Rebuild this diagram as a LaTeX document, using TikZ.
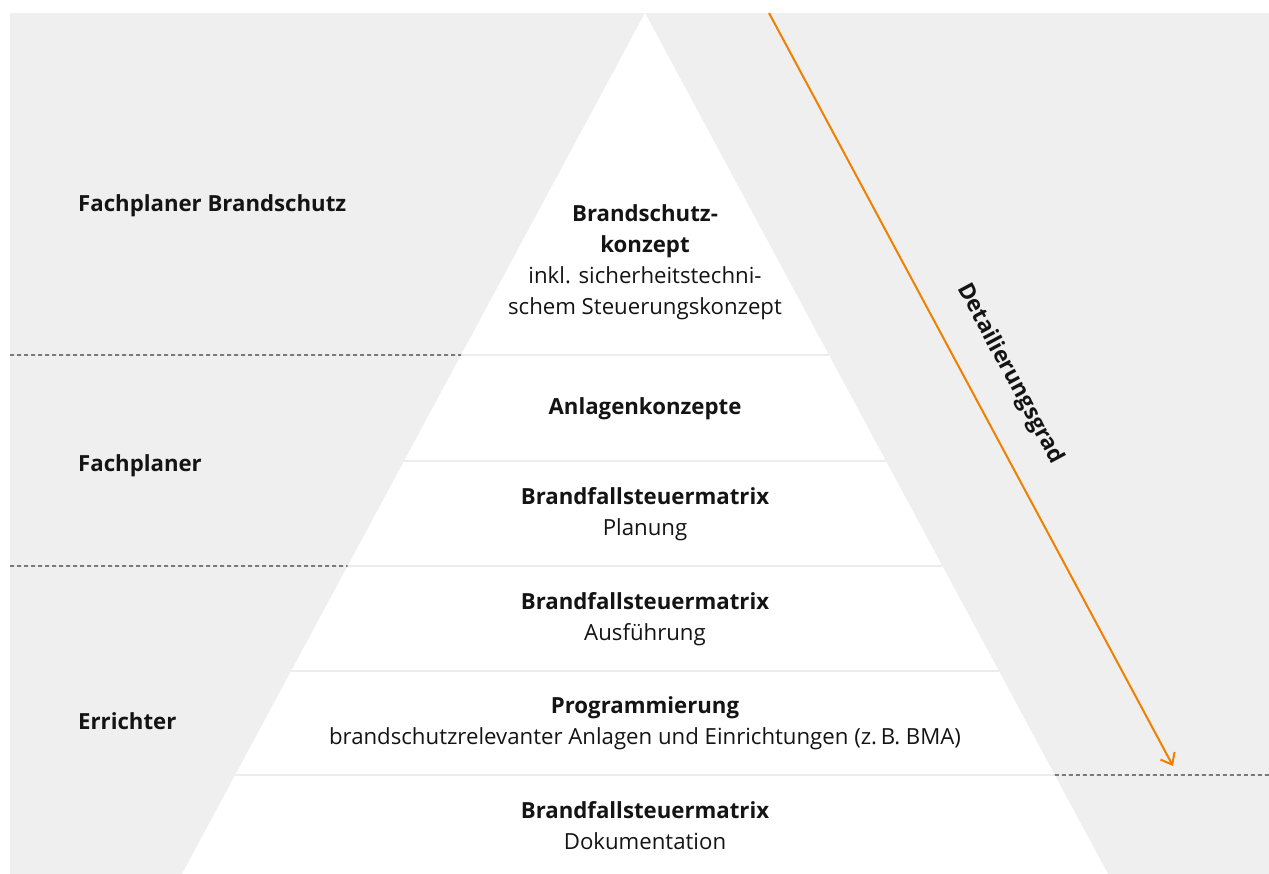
\documentclass[tikz,border=0pt]{standalone}
\usepackage{fontspec}
\setmainfont{Open Sans}
\usetikzlibrary{arrows.meta,calc}
\definecolor{panel}{RGB}{239,239,239}
\definecolor{sepline}{RGB}{236,236,236}
\definecolor{ink}{RGB}{20,20,20}
\definecolor{dashgray}{RGB}{60,60,60}
\definecolor{accent}{RGB}{240,128,0}
\tikzset{
  txt/.style={text=ink, font=\fontsize{22.2}{31}\selectfont, inner sep=0pt},
  role/.style={txt, anchor=west, font=\fontsize{22.2}{31}\selectfont\bfseries},
  level/.style={txt, align=center},
  layerline/.style={draw=sepline, line width=2pt},
  rolesep/.style={draw=dashgray, line width=1.3pt, dash pattern=on 4pt off 3pt},
  grade/.style={draw=accent, line width=2pt, -{Straight Barb[length=10pt,width=16pt,line width=2pt]}}
}
\newcommand{\hd}[1]{\textbf{#1}}
\begin{document}
\begin{tikzpicture}[x=1pt,y=-1pt]
\useasboundingbox (0,0) rectangle (1269,874);
% backdrop panel
\fill[panel] (10,13) rectangle (1269,874);
% pyramid
\coordinate (apex) at (645,13);
\coordinate (baseL) at (182,874);
\coordinate (baseR) at (1108,874);
\fill[white] (apex) -- (baseL) -- (baseR) -- cycle;
% level boundaries inside the pyramid
\foreach \name/\yy in {a/355,b/461,c/566,d/671,e/775}{
  \coordinate (\name L) at ($(apex)!{(\yy-13)/861}!(baseL)$);
  \coordinate (\name R) at ($(apex)!{(\yy-13)/861}!(baseR)$);
  \draw[layerline] (\name L) -- (\name R);
}
% role boundaries
\coordinate (sepA) at (10,355);
\coordinate (sepC) at (10,566);
\coordinate (sepE) at (1269,775);
\draw[rolesep] (sepA) -- (aL);
\draw[rolesep] (sepC) -- (cL);
\draw[rolesep] (eR) -- (sepE);
% roles
\node[role] (r1) at (78,206) {Fachplaner Brandschutz};
\node[role] (r2) at (78,466) {Fachplaner};
\node[role] (r3) at (78,721) {Errichter};
% levels
\node[level] (l1) at (645,262) {\hd{Brandschutz-}\\\hd{konzept}\\inkl. sicherheitstechni-\\schem Steuerungskonzept};
\node[level] (l2) at (645,409) {\hd{Anlagenkonzepte}};
\node[level] (l3) at (645,514) {\hd{Brandfallsteuermatrix}\\Planung};
\node[level] (l4) at (645,619) {\hd{Brandfallsteuermatrix}\\Ausführung};
\node[level] (l5) at (645,723) {\hd{Programmierung}\\brandschutzrelevanter Anlagen und Einrichtungen (z.\,B. BMA)};
\node[level] (l6) at (645,826) {\hd{Brandfallsteuermatrix}\\Dokumentation};
% degree of detail
\coordinate (gStart) at (769,13);
\coordinate (gEnd) at (1173,766);
\draw[grade] (gStart) -- (gEnd);
\node[txt, font=\fontsize{22.5}{26}\selectfont\bfseries, rotate=-61.78] (gLabel) at (1010,374) {Detailierungsgrad};
\end{tikzpicture}
\end{document}
